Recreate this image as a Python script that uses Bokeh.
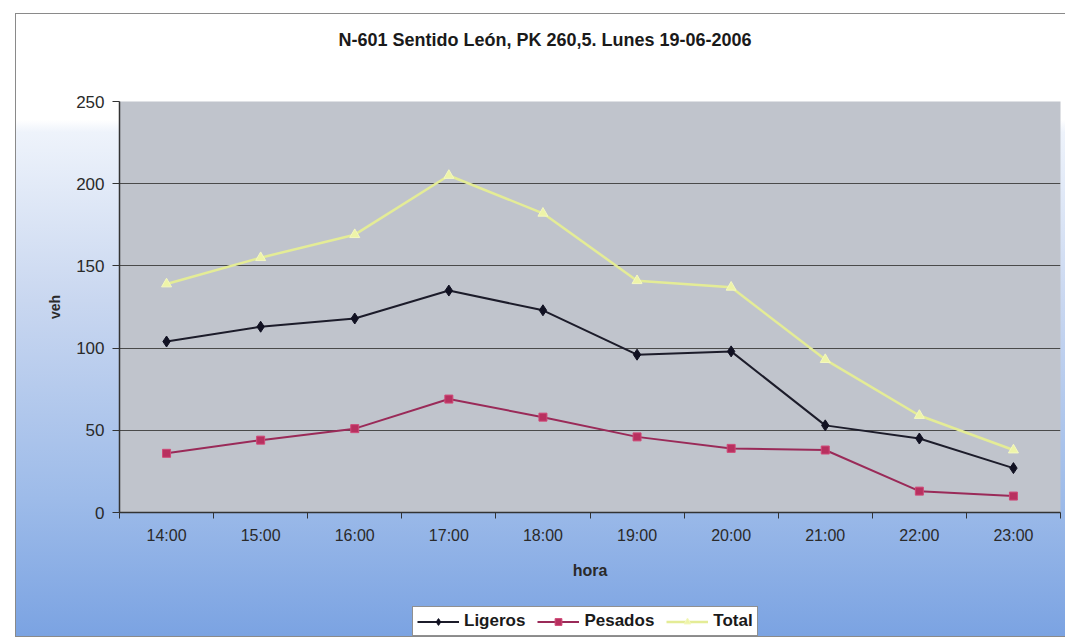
from bokeh.plotting import figure
from bokeh.layouts import column
from bokeh.models import Legend, LegendItem, FixedTicker, Range1d, Label
from bokeh.embed import file_html
from bokeh.resources import INLINE

# ---- data ----
hours = ["14:00", "15:00", "16:00", "17:00", "18:00", "19:00", "20:00", "21:00", "22:00", "23:00"]
ligeros = [104, 113, 118, 135, 123, 96, 98, 53, 45, 27]
pesados = [36, 44, 51, 69, 58, 46, 39, 38, 13, 10]
total = [139, 155, 169, 205, 182, 141, 137, 93, 59, 38]
y_ticks = [0, 50, 100, 150, 200, 250]
title_text = "N-601 Sentido León, PK 260,5.  Lunes 19-06-2006"
series_names = ["Ligeros", "Pesados", "Total"]

xs = [i + 0.5 for i in range(len(hours))]
bounds = list(range(len(hours) + 1))

W, H = 1065, 640
TH, LH = 60, 42           # title strip, legend strip
MH = H - TH - LH          # main chart
FRAME_LEFT = 119          # frames of the column are aligned on this

bg = ("linear-gradient(#8a8a8a,#8a8a8a) 15px 13px / 1px 624px no-repeat, "
      "linear-gradient(#8a8a8a,#8a8a8a) 15px 13px / 1050px 1px no-repeat, "
      "linear-gradient(#8a8a8a,#8a8a8a) 15px 636px / 1050px 1px no-repeat, "
      "linear-gradient(to bottom, #ffffff 0%, #ffffff 17%, #eef3fb 19%, "
      "#c9d7f0 46%, #9dbbe9 78%, #7ba3e2 100%) 16px 14px / 1049px 622px no-repeat, "
      "#ffffff")

def strip(height, y_range):
    f = figure(width=W, height=height, x_range=Range1d(0, len(hours)), y_range=y_range,
               x_axis_type=None, y_axis_type=None, output_backend="svg",
               toolbar_location=None, min_border=0, outline_line_color=None,
               background_fill_alpha=0, border_fill_alpha=0)
    f.xgrid.visible = False
    f.ygrid.visible = False
    return f

# ---- title strip ----
pt = strip(TH, Range1d(0, 1))
pt.add_layout(Label(
    x=547 - FRAME_LEFT, y=TH - 39, x_units="screen", y_units="screen",
    text=title_text, text_align="center", text_baseline="middle",
    text_font="Liberation Sans", text_font_size="18px", text_font_style="bold",
    text_color="#1a1a1a",
))

# ---- main chart ----
p = figure(
    width=W, height=MH,
    x_range=Range1d(0, len(hours)), y_range=Range1d(y_ticks[0], y_ticks[-1]),
    output_backend="svg", toolbar_location=None,
    min_border_left=FRAME_LEFT, min_border_right=5, min_border_top=101 - TH,
    min_border_bottom=MH - (512 - TH),
    background_fill_color="#c0c4cc",
    border_fill_alpha=0,
    outline_line_color=None,
)

p.xgrid.visible = False
p.ygrid.grid_line_color = "#4a4a4a"
p.ygrid.grid_line_width = 1

p.yaxis.ticker = FixedTicker(ticks=y_ticks)
p.yaxis.axis_line_color = "#333333"
p.yaxis.axis_line_width = 1.5
p.yaxis.major_tick_out = 7
p.yaxis.major_tick_in = 0
p.yaxis.minor_tick_out = 0
p.yaxis.minor_tick_in = 0
p.yaxis.major_tick_line_color = "#333333"
p.yaxis.major_label_standoff = 8
p.yaxis.major_label_text_font = "Liberation Sans"
p.yaxis.major_label_text_font_size = "17px"
p.yaxis.major_label_text_color = "#2a2a2a"
p.yaxis.axis_label = "veh"
p.yaxis.axis_label_standoff = 10
p.yaxis.axis_label_text_font = "Liberation Sans"
p.yaxis.axis_label_text_font_size = "14px"
p.yaxis.axis_label_text_font_style = "bold"
p.yaxis.axis_label_text_color = "#2a2a2a"

p.xaxis.ticker = FixedTicker(ticks=xs, minor_ticks=bounds)
p.xaxis.major_label_overrides = {x: h for x, h in zip(xs, hours)}
p.xaxis.axis_line_color = "#333333"
p.xaxis.axis_line_width = 1.5
p.xaxis.major_tick_out = 0
p.xaxis.major_tick_in = 0
p.xaxis.minor_tick_out = 6
p.xaxis.minor_tick_in = 0
p.xaxis.minor_tick_line_color = "#333333"
p.xaxis.major_label_standoff = 8
p.xaxis.major_label_text_font = "Liberation Sans"
p.xaxis.major_label_text_font_size = "16px"
p.xaxis.major_label_text_color = "#2a2a2a"
p.xaxis.axis_label = "hora"
p.xaxis.axis_label_standoff = 15
p.xaxis.axis_label_text_font = "Liberation Sans"
p.xaxis.axis_label_text_font_size = "16px"
p.xaxis.axis_label_text_font_style = "bold"
p.xaxis.axis_label_text_color = "#2a2a2a"

styles = [
    dict(line_color="#1c1c2a", line_width=2, marker="diamond", size=11,
         fill_color="#111122", mline="#111122"),
    dict(line_color="#9a2a58", line_width=2, marker="square", size=8,
         fill_color="#b8305f", mline="#d04a78"),
    dict(line_color="#e4ec96", line_width=2.5, marker="triangle", size=10,
         fill_color="#eef4a8", mline="#f4f8c0"),
]
series = [ligeros, pesados, total]
for ys, st in zip(series, styles):
    p.line(xs, ys, line_color=st["line_color"], line_width=st["line_width"])
    p.scatter(xs, ys, marker=st["marker"], size=st["size"],
              fill_color=st["fill_color"], line_color=st["mline"])

# ---- legend strip (series drawn again, outside its visible y range) ----
pl = strip(LH, Range1d(-1001, -1000))
items = []
for name, ys, st in zip(series_names, series, styles):
    r1 = pl.line(xs, ys, line_color=st["line_color"], line_width=st["line_width"])
    r2 = pl.scatter(xs, ys, marker=st["marker"], size=st["size"],
                    fill_color=st["fill_color"], line_color=st["mline"])
    items.append(LegendItem(label=name, renderers=[r1, r2]))

legend = Legend(
    items=items,
    orientation="horizontal",
    location=(412 - FRAME_LEFT, 4),
    label_text_font="Liberation Sans",
    label_text_font_size="17px",
    label_text_font_style="bold",
    label_text_color="#1a1a1a",
    glyph_width=42, glyph_height=17,
    label_standoff=5, spacing=12, padding=4, margin=0,
    border_line_color="#222222", border_line_width=1,
    background_fill_color="white", background_fill_alpha=1,
)
pl.add_layout(legend, "center")

layout = column(pt, p, pl, spacing=0, styles={"background": bg})
open("out.html", "w").write(file_html(layout, INLINE))
